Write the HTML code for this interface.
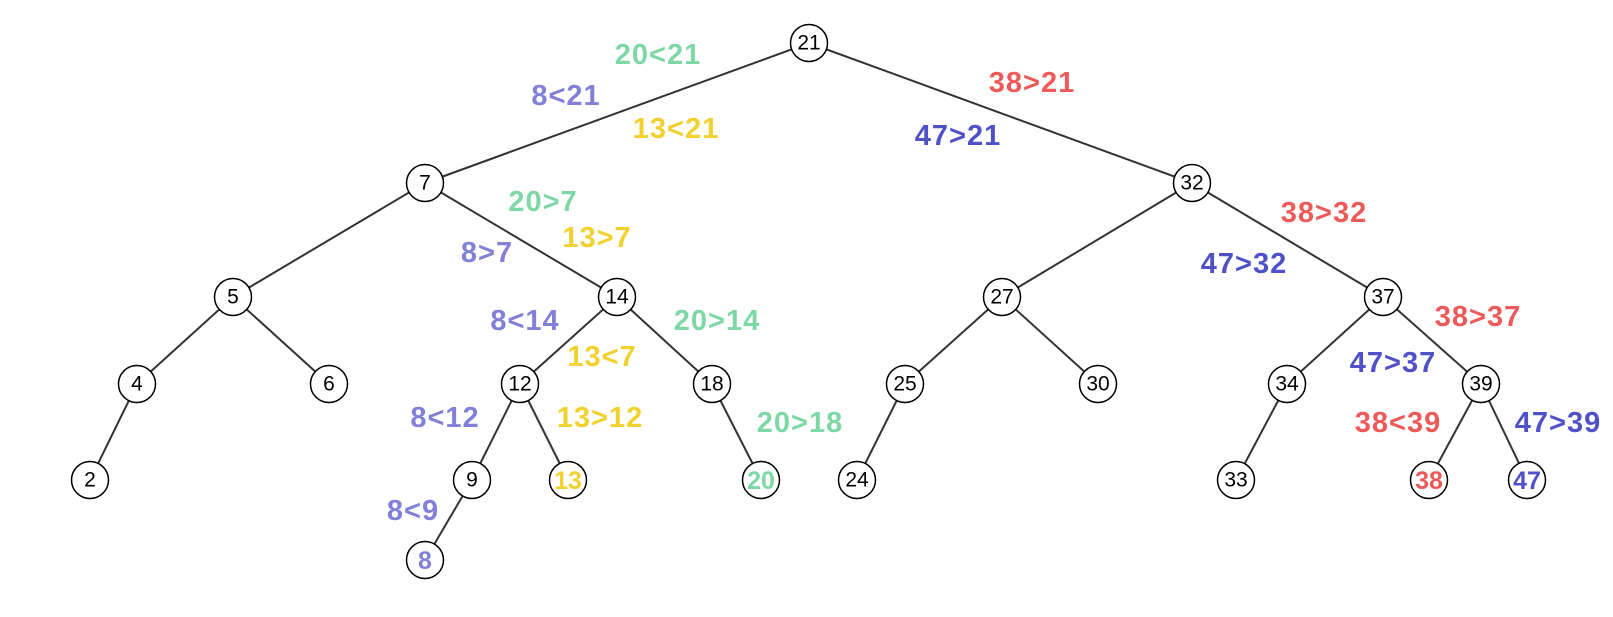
<!DOCTYPE html>
<html><head><meta charset="utf-8"><style>
body{margin:0;background:#fff}
svg{display:block}
.n circle{fill:#fff;stroke:#000;stroke-width:1.5}
.n text{font:21px "Liberation Sans",sans-serif;text-anchor:middle;dominant-baseline:central}
.n text.b{font:bold 25px "Liberation Sans",sans-serif}
.l{font:bold 29px "Liberation Sans",sans-serif;text-anchor:middle;dominant-baseline:central;letter-spacing:1px}
line{stroke:#333;stroke-width:2}
</style></head><body>
<svg width="1613" height="617" viewBox="0 0 1613 617">
<g>
<line x1="809" y1="43" x2="425" y2="183"/><line x1="809" y1="43" x2="1192" y2="183"/>
<line x1="425" y1="183" x2="233" y2="297"/><line x1="425" y1="183" x2="617" y2="297"/>
<line x1="1192" y1="183" x2="1002" y2="297"/><line x1="1192" y1="183" x2="1383" y2="297"/>
<line x1="233" y1="297" x2="137" y2="384"/><line x1="233" y1="297" x2="329" y2="384"/>
<line x1="617" y1="297" x2="520" y2="384"/><line x1="617" y1="297" x2="712" y2="384"/>
<line x1="1002" y1="297" x2="905" y2="384"/><line x1="1002" y1="297" x2="1098" y2="384"/>
<line x1="1383" y1="297" x2="1287" y2="384"/><line x1="1383" y1="297" x2="1481" y2="384"/>
<line x1="137" y1="384" x2="90" y2="480"/>
<line x1="520" y1="384" x2="472" y2="480"/><line x1="520" y1="384" x2="568" y2="480"/>
<line x1="712" y1="384" x2="761" y2="480"/>
<line x1="905" y1="384" x2="857" y2="480"/>
<line x1="1287" y1="384" x2="1236" y2="480"/>
<line x1="1481" y1="384" x2="1429" y2="480"/><line x1="1481" y1="384" x2="1527" y2="480"/>
<line x1="472" y1="480" x2="425" y2="560"/>
</g>
<g class="n">
<circle cx="809" cy="43" r="18.5"/><text x="809" y="43">21</text>
<circle cx="425" cy="183" r="18.5"/><text x="425" y="183">7</text>
<circle cx="1192" cy="183" r="18.5"/><text x="1192" y="183">32</text>
<circle cx="233" cy="297" r="18.5"/><text x="233" y="297">5</text>
<circle cx="617" cy="297" r="18.5"/><text x="617" y="297">14</text>
<circle cx="1002" cy="297" r="18.5"/><text x="1002" y="297">27</text>
<circle cx="1383" cy="297" r="18.5"/><text x="1383" y="297">37</text>
<circle cx="137" cy="384" r="18.5"/><text x="137" y="384">4</text>
<circle cx="329" cy="384" r="18.5"/><text x="329" y="384">6</text>
<circle cx="520" cy="384" r="18.5"/><text x="520" y="384">12</text>
<circle cx="712" cy="384" r="18.5"/><text x="712" y="384">18</text>
<circle cx="905" cy="384" r="18.5"/><text x="905" y="384">25</text>
<circle cx="1098" cy="384" r="18.5"/><text x="1098" y="384">30</text>
<circle cx="1287" cy="384" r="18.5"/><text x="1287" y="384">34</text>
<circle cx="1481" cy="384" r="18.5"/><text x="1481" y="384">39</text>
<circle cx="90" cy="480" r="18.5"/><text x="90" y="480">2</text>
<circle cx="472" cy="480" r="18.5"/><text x="472" y="480">9</text>
<circle cx="568" cy="480" r="18.5"/><text class="b" x="568" y="481" fill="#f0d12e">13</text>
<circle cx="761" cy="480" r="18.5"/><text class="b" x="761" y="481" fill="#7dd8a5">20</text>
<circle cx="857" cy="480" r="18.5"/><text x="857" y="480">24</text>
<circle cx="1236" cy="480" r="18.5"/><text x="1236" y="480">33</text>
<circle cx="1429" cy="480" r="18.5"/><text class="b" x="1429" y="481" fill="#ee5a5a">38</text>
<circle cx="1527" cy="480" r="18.5"/><text class="b" x="1527" y="481" fill="#5050c8">47</text>
<circle cx="425" cy="560" r="18.5"/><text class="b" x="425" y="561" fill="#8380d8">8</text>
</g>
<g class="l">
<text x="658" y="55" fill="#7dd8a5">20&lt;21</text>
<text x="566" y="96" fill="#8380d8">8&lt;21</text>
<text x="676" y="129" fill="#f0d12e">13&lt;21</text>
<text x="1032" y="83" fill="#ee5a5a">38&gt;21</text>
<text x="958" y="136" fill="#5050c8">47&gt;21</text>
<text x="543" y="202" fill="#7dd8a5">20&gt;7</text>
<text x="597" y="238" fill="#f0d12e">13&gt;7</text>
<text x="487" y="253" fill="#8380d8">8&gt;7</text>
<text x="525" y="321" fill="#8380d8">8&lt;14</text>
<text x="717" y="321" fill="#7dd8a5">20&gt;14</text>
<text x="602" y="357" fill="#f0d12e">13&lt;7</text>
<text x="445" y="418" fill="#8380d8">8&lt;12</text>
<text x="600" y="418" fill="#f0d12e">13&gt;12</text>
<text x="413" y="511" fill="#8380d8">8&lt;9</text>
<text x="800" y="423" fill="#7dd8a5">20&gt;18</text>
<text x="1324" y="213" fill="#ee5a5a">38&gt;32</text>
<text x="1244" y="264" fill="#5050c8">47&gt;32</text>
<text x="1478" y="317" fill="#ee5a5a">38&gt;37</text>
<text x="1393" y="363" fill="#5050c8">47&gt;37</text>
<text x="1398" y="423" fill="#ee5a5a">38&lt;39</text>
<text x="1558" y="423" fill="#5050c8">47&gt;39</text>
</g>
</svg>
</body></html>
